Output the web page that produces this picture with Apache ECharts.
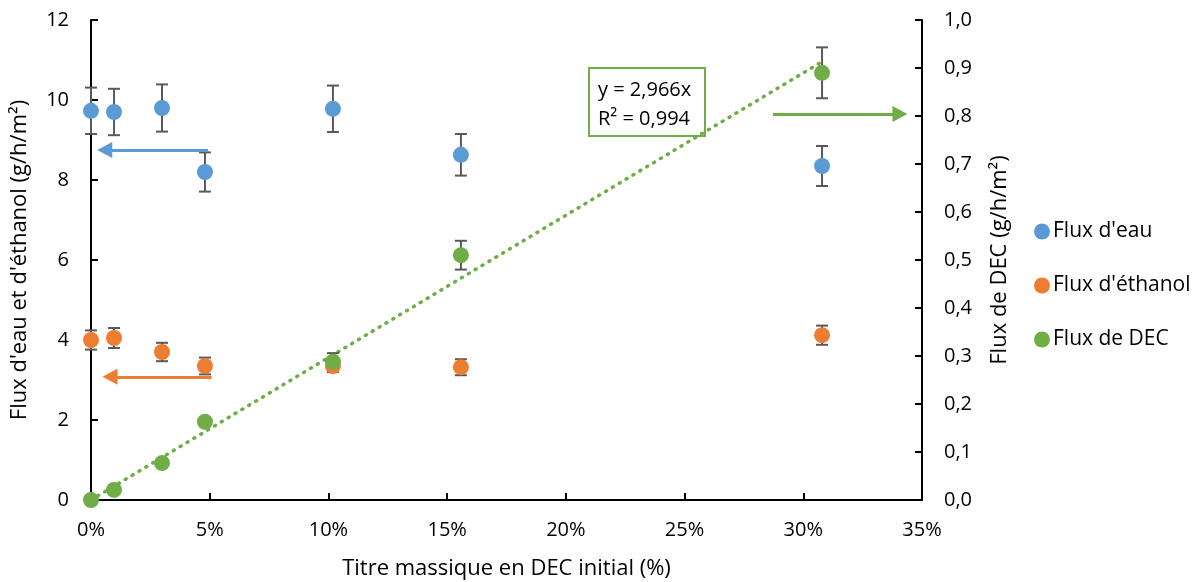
<!DOCTYPE html>
<html><head><meta charset="utf-8">
<script src="https://cdn.jsdelivr.net/npm/echarts@6/dist/echarts.min.js"></script>
<style>html,body{margin:0;padding:0;background:#fff;overflow:hidden}#c{width:1196px;height:582px}</style>
</head><body><div id="c"></div>
<script>
// Data
const xVals       = [0, 0.0097, 0.0299, 0.0480, 0.1019, 0.1558, 0.3079];
const waterFlux   = [9.73, 9.70, 9.80, 8.20, 9.78, 8.63, 8.35];
const waterErr    = [0.58, 0.58, 0.59, 0.49, 0.58, 0.52, 0.50];
const ethanolFlux = [4.00, 4.05, 3.70, 3.35, 3.35, 3.32, 4.12];
const ethanolErr  = [0.24, 0.25, 0.23, 0.21, 0.15, 0.20, 0.24];
const decFlux     = [0.000, 0.021, 0.077, 0.163, 0.288, 0.510, 0.890];
const decErr      = [0, 0, 0, 0.005, 0.018, 0.030, 0.053];
const trendSlope  = 2.966;
const trendXRange = [0, 0.308];
const trendText   = ['y = 2,966x', 'R² = 0,994'];
const seriesNames = ["Flux d'eau", "Flux d'éthanol", "Flux de DEC"];
const colors      = ['#5b9bd5', '#ed7d31', '#70ad47'];

const FONT = '"Open Sans", "Noto Sans", sans-serif';
const zip = (ys) => xVals.map((x, i) => [x, ys[i]]);
const zipErr = (ys, es) => xVals.map((x, i) => [x, ys[i], es[i]]);

function errRender(params, api) {
  const x = api.value(0), y = api.value(1), e = api.value(2);
  if (!e) return;
  const top = api.coord([x, y + e]);
  const bot = api.coord([x, y - e]);
  const hw = 6;
  const st = { stroke: '#595959', lineWidth: 2 };
  return {
    type: 'group',
    children: [
      { type: 'line', shape: { x1: top[0], y1: top[1], x2: bot[0], y2: bot[1] }, style: st },
      { type: 'line', shape: { x1: top[0] - hw, y1: top[1], x2: top[0] + hw, y2: top[1] }, style: st },
      { type: 'line', shape: { x1: bot[0] - hw, y1: bot[1], x2: bot[0] + hw, y2: bot[1] }, style: st }
    ]
  };
}

const chart = echarts.init(document.getElementById('c'), null, { renderer: 'canvas', width: 1196, height: 582 });
const axisLine = { show: true, lineStyle: { color: '#000', width: 2 } };
const axisTick = { show: true, inside: true, length: 7, lineStyle: { color: '#000', width: 2 } };
const axisLabelStyle = { color: '#000', fontSize: 20, fontFamily: FONT };
const nameStyle = { color: '#000', fontSize: 22, fontFamily: FONT };

chart.setOption({
  animation: false,
  textStyle: { fontFamily: FONT },
  grid: { left: 91, right: 274, top: 20, bottom: 82, containLabel: false, outerBoundsMode: 'none' },
  xAxis: {
    type: 'value', min: 0, max: 0.35, interval: 0.05,
    axisLine, axisTick, splitLine: { show: false },
    axisLabel: Object.assign({ margin: 20, formatter: v => Math.round(v * 100) + '%' }, axisLabelStyle),
    name: 'Titre massique en DEC initial (%)', nameLocation: 'middle', nameGap: 58,
    nameTextStyle: nameStyle
  },
  yAxis: [
    {
      type: 'value', min: 0, max: 12, interval: 2,
      axisLine, axisTick, splitLine: { show: false },
      axisLabel: Object.assign({ margin: 22 }, axisLabelStyle),
      name: "Flux d'eau et d'éthanol (g/h/m²)", nameLocation: 'middle', nameGap: 60,
      nameTextStyle: nameStyle
    },
    {
      type: 'value', min: 0, max: 1, interval: 0.1, position: 'right',
      axisLine, axisTick, splitLine: { show: false },
      axisLabel: Object.assign({ margin: 22, formatter: v => v.toFixed(1).replace('.', ',') }, axisLabelStyle),
      name: 'Flux de DEC (g/h/m²)', nameLocation: 'middle', nameGap: 67, nameRotate: 90,
      nameTextStyle: nameStyle
    }
  ],
  legend: {
    data: seriesNames, orient: 'vertical', left: 1029, top: 216,
    icon: 'circle', itemWidth: 16, itemHeight: 16, itemGap: 33,
    itemStyle: { opacity: 1 },
    textStyle: { color: '#000', fontSize: 21, fontFamily: FONT, padding: [0, 0, 0, -2] }
  },
  graphic: [{
    type: 'group', left: 588, top: 67,
    children: [
      { type: 'rect', shape: { x: 0, y: 0, width: 116, height: 68 }, style: { fill: '#fff', stroke: '#70ad47', lineWidth: 2 } },
      { type: 'text', x: 9, y: 22, style: { text: trendText[0], fontSize: 20, fontFamily: FONT, fill: '#000', verticalAlign: 'middle' } },
      { type: 'text', x: 9, y: 51, style: { text: trendText[1], fontSize: 20, fontFamily: FONT, fill: '#000', verticalAlign: 'middle' } }
    ]
  }],
  series: [
    {
      type: 'line', yAxisIndex: 1, silent: true, symbol: 'none',
      data: trendXRange.map(x => [x, trendSlope * x]),
      lineStyle: { color: '#70ad47', width: 3.5, type: [1, 7], cap: 'round' }, z: 1
    },
    { type: 'custom', yAxisIndex: 0, renderItem: errRender, data: zipErr(waterFlux, waterErr), z: 2, silent: true },
    { type: 'custom', yAxisIndex: 0, renderItem: errRender, data: zipErr(ethanolFlux, ethanolErr), z: 2, silent: true },
    { type: 'custom', yAxisIndex: 1, renderItem: errRender, data: zipErr(decFlux, decErr), z: 2, silent: true },
    {
      name: seriesNames[0], type: 'scatter', yAxisIndex: 0, symbolSize: 16, data: zip(waterFlux),
      itemStyle: { color: colors[0], opacity: 1 }, z: 3,
      markLine: {
        silent: true, symbol: ['none', 'triangle'], symbolSize: [16, 15], label: { show: false },
        lineStyle: { color: colors[0], width: 3, type: 'solid', opacity: 1 },
        data: [[{ coord: [0.0493, 8.75] }, { coord: [0.0058, 8.75] }]]
      }
    },
    {
      name: seriesNames[1], type: 'scatter', yAxisIndex: 0, symbolSize: 16, data: zip(ethanolFlux),
      itemStyle: { color: colors[1], opacity: 1 }, z: 3,
      markLine: {
        silent: true, symbol: ['none', 'triangle'], symbolSize: [16, 15], label: { show: false },
        lineStyle: { color: colors[1], width: 3, type: 'solid', opacity: 1 },
        data: [[{ coord: [0.0508, 3.08] }, { coord: [0.0080, 3.08] }]]
      }
    },
    {
      name: seriesNames[2], type: 'scatter', yAxisIndex: 1, symbolSize: 16, data: zip(decFlux),
      itemStyle: { color: colors[2], opacity: 1 }, z: 4,
      markLine: {
        silent: true, symbol: ['none', 'triangle'], symbolSize: [16, 15], label: { show: false },
        lineStyle: { color: colors[2], width: 3, type: 'solid', opacity: 1 },
        data: [[{ coord: [0.2872, 0.804] }, { coord: [0.3407, 0.804] }]]
      }
    }
  ]
});
</script></body></html>
